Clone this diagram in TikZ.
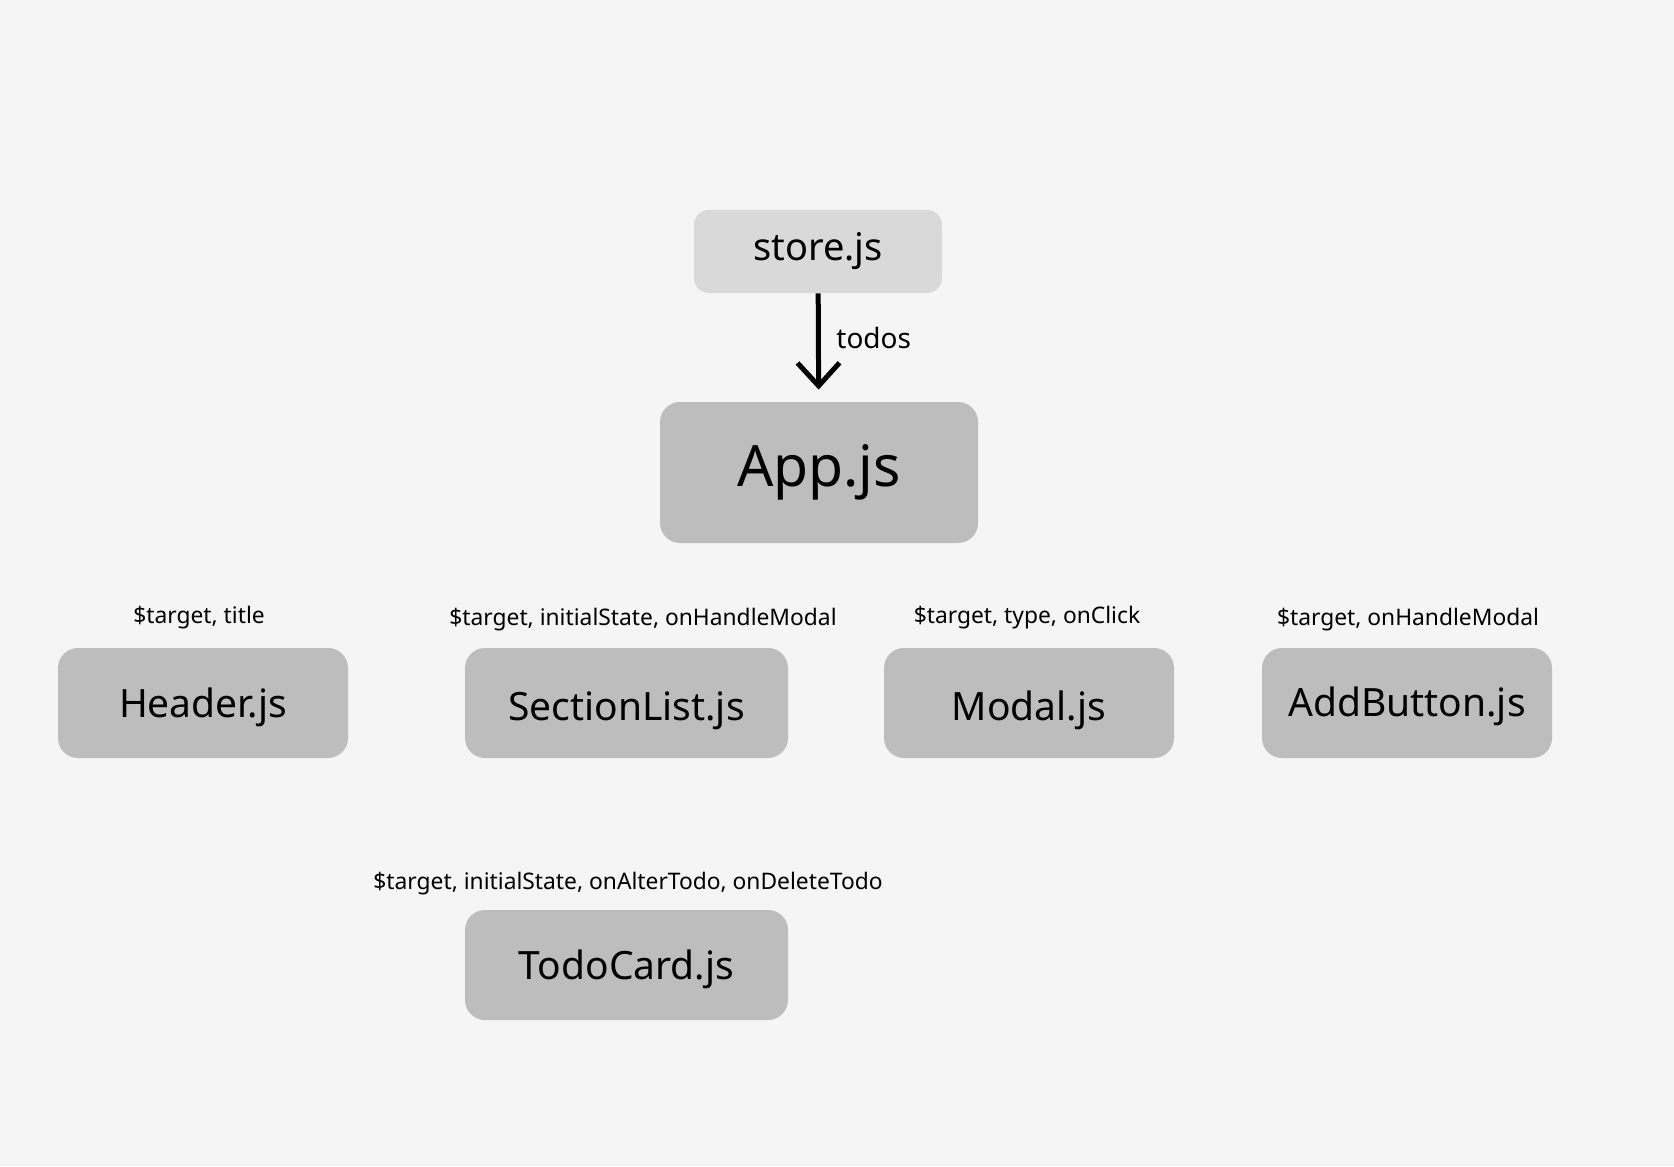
\documentclass[tikz,border=0pt]{standalone}
\usepackage{fontspec}
\setmainfont{Noto Sans}
\usepackage{tikz}
\usetikzlibrary{positioning,arrows.meta}
\usepackage{xcolor}
\definecolor{paper}{HTML}{F5F5F5}
\definecolor{storegray}{HTML}{D9D9D9}
\definecolor{compgray}{HTML}{BDBDBD}

\begin{document}
\begin{tikzpicture}[x=0.5pt, y=-0.5pt,
    comp/.style={fill=compgray, rounded corners=10pt, inner sep=0pt,
      minimum width=145pt, minimum height=55pt, font=\fontsize{19}{22}\selectfont},
    child/.style={comp, font=\fontsize{19.5}{22}\selectfont, text height=18pt, text depth=4pt},
    props/.style={anchor=base, font=\fontsize{11.4}{14}\selectfont}]
  \fill[paper] (0,0) rectangle (1674,1166);
  % store and app
  \node[comp, fill=storegray, rounded corners=7.5pt, minimum width=124pt, minimum height=41.5pt] (store) at (818,251.5) {store.js};
  \node[comp, minimum width=159pt, minimum height=70.5pt, font=\fontsize{28.5}{32}\selectfont] (app) at (819,472.5) {App.js};
  \draw[line width=2.5pt, -{Straight Barb[length=11.5pt, width=21pt]}, shorten >=6pt] (store) -- (app);
  \node[anchor=base west, inner sep=0pt, font=\fontsize{14}{16}\selectfont] (todos) at (836,348) {todos};
  % components
  \node[child] (header) at (203,703) {Header.js};
  \node[child, minimum width=161.5pt, text height=21pt] (sectionlist) at (626.5,703) {SectionList.js};
  \node[child, text height=21pt] (modal) at (1029,703) {Modal.js};
  \node[child, text height=17pt] (addbutton) at (1407,703) {AddButton.js};
  \node[child, minimum width=161.5pt] (todocard) at (626.5,965) {TodoCard.js};
  % props
  \node[props] (header-props) at (199,623) {\$target, title};
  \node[props] (sectionlist-props) at (643,625) {\$target, initialState, onHandleModal};
  \node[props] (modal-props) at (1027,623) {\$target, type, onClick};
  \node[props] (addbutton-props) at (1408,625) {\$target, onHandleModal};
  \node[props] (todocard-props) at (628,889) {\$target, initialState, onAlterTodo, onDeleteTodo};
\end{tikzpicture}
\end{document}
